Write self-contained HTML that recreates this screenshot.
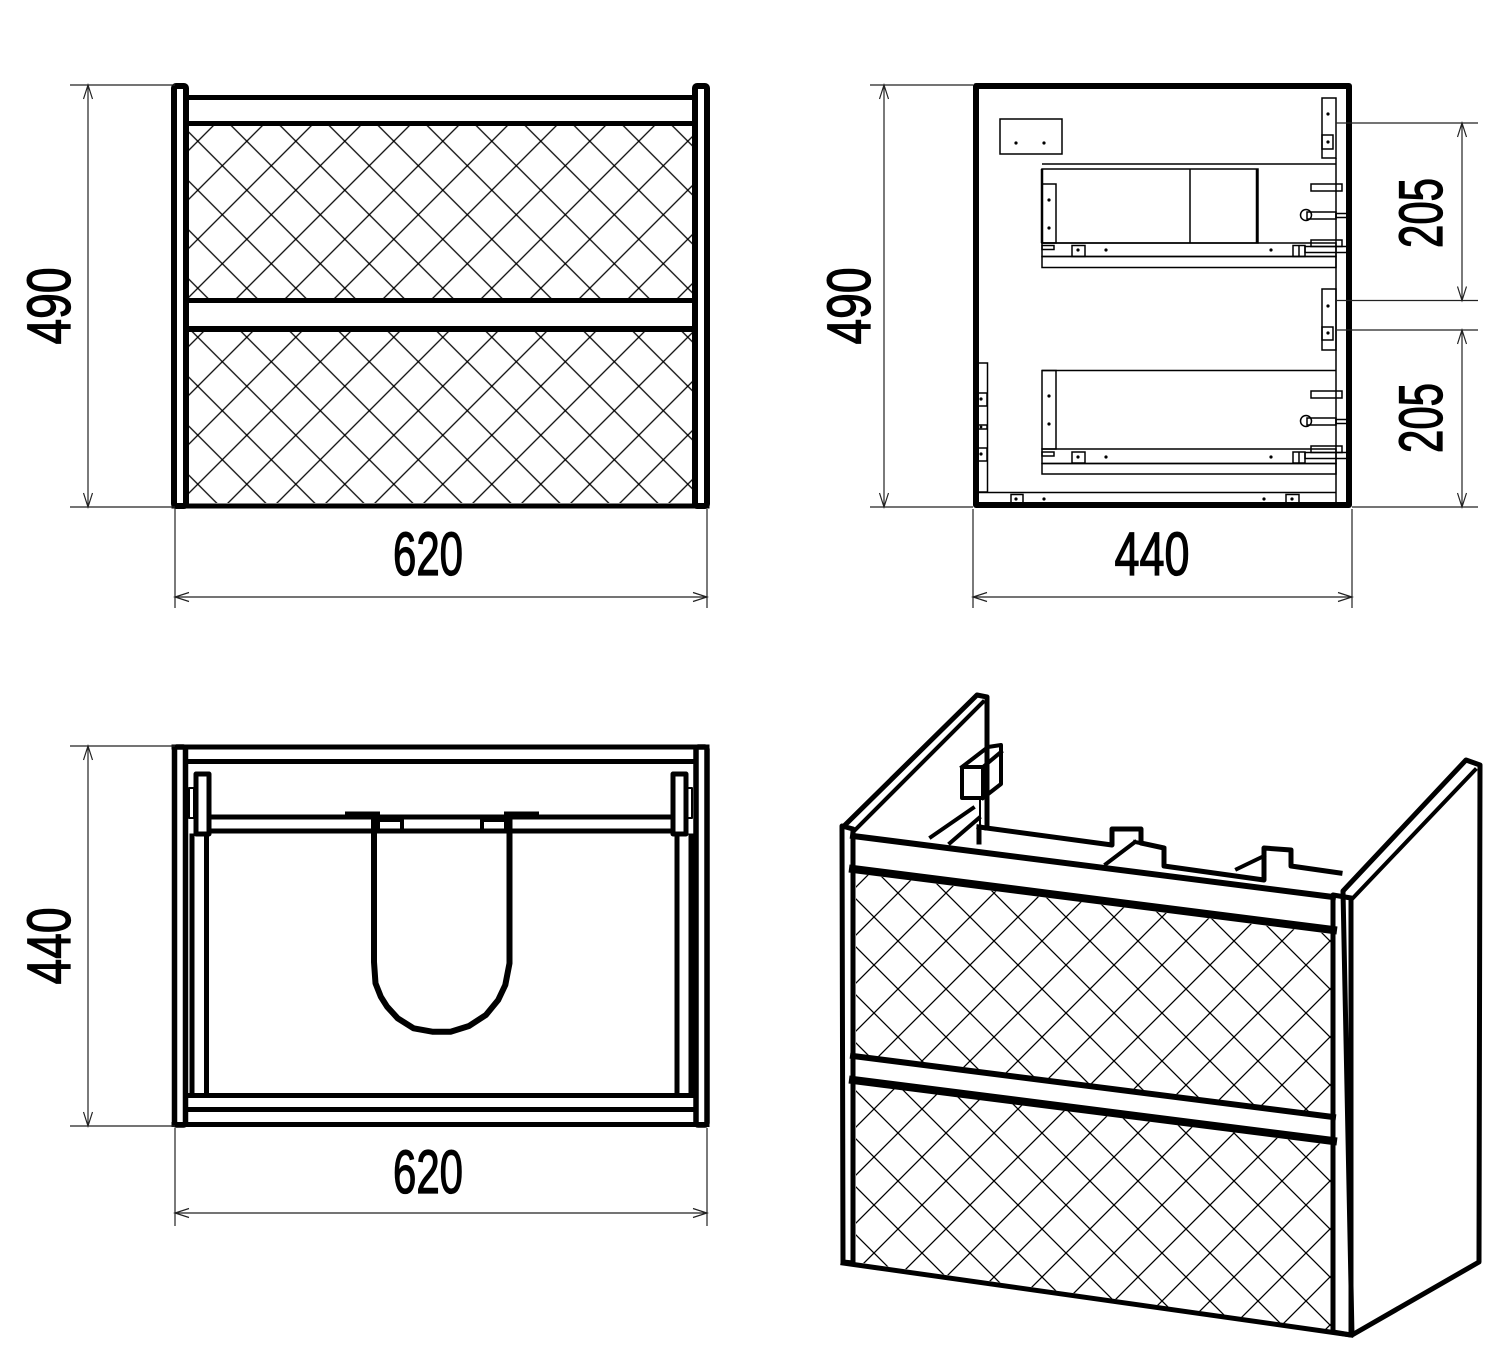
<!DOCTYPE html>
<html><head><meta charset="utf-8"><style>
html,body{margin:0;padding:0;background:#fff;}
svg{display:block;}
.d{stroke:#222;stroke-width:1.2;fill:none;}
.t{font-family:"Liberation Sans",sans-serif;font-weight:normal;font-size:61px;fill:#000;stroke:#000;stroke-width:1.3;}
.k{stroke:#000;fill:none;stroke-linecap:square;stroke-linejoin:round;}
.s{stroke:#000;stroke-width:1.5;fill:none;}
.f{stroke:#000;stroke-width:1.5;fill:#fff;}
.dot{fill:#000;}
</style></head><body>
<svg width="1506" height="1362" viewBox="0 0 1506 1362" xmlns="http://www.w3.org/2000/svg">
<defs>
<pattern id="h" patternUnits="userSpaceOnUse" x="26.3" y="18.7" width="49" height="49">
<path d="M-1 -1 L50 50 M50 -1 L-1 50" stroke="#000" stroke-width="1.3"/>
</pattern>
<pattern id="h2" patternUnits="userSpaceOnUse" x="10" y="5" width="48" height="48">
<path d="M-1 -1 L49 49 M49 -1 L-1 49" stroke="#000" stroke-width="1.3"/>
</pattern>
</defs>

<!-- ============ FRONT VIEW ============ -->
<rect x="189" y="126" width="503" height="172" fill="url(#h)"/>
<rect x="189" y="332" width="503" height="171" fill="url(#h)"/>
<line class="k" x1="189" y1="97.5" x2="692" y2="97.5" stroke-width="5"/>
<line class="k" x1="189" y1="123.5" x2="692" y2="123.5" stroke-width="5"/>
<line class="k" x1="189" y1="300.5" x2="692" y2="300.5" stroke-width="5"/>
<line class="k" x1="189" y1="329" x2="692" y2="329" stroke-width="6"/>
<line class="k" x1="174" y1="506" x2="707" y2="506" stroke-width="5"/>
<rect class="k" x="174" y="86" width="12" height="420" rx="2" stroke-width="6" fill="#fff"/>
<rect class="k" x="695" y="86" width="12" height="420" rx="2" stroke-width="6" fill="#fff"/>

<!-- dims front -->
<line class="d" x1="70" y1="85" x2="175" y2="85"/>
<line class="d" x1="70" y1="507" x2="175" y2="507"/>
<line class="d" x1="88" y1="85" x2="88" y2="507"/>
<path class="d" d="M83.5 99 L88 85 L92.5 99 M83.5 493 L88 507 L92.5 493"/>
<line class="d" x1="175" y1="509" x2="175" y2="608"/>
<line class="d" x1="707" y1="509" x2="707" y2="608"/>
<line class="d" x1="175" y1="597" x2="707" y2="597"/>
<path class="d" d="M189 592.5 L175 597 L189 601.5 M693 592.5 L707 597 L693 601.5"/>
<text class="t" x="428" y="575" text-anchor="middle" textLength="70" lengthAdjust="spacingAndGlyphs">620</text>
<text class="t" transform="translate(70,306) rotate(-90)" x="0" y="0" text-anchor="middle" textLength="77" lengthAdjust="spacingAndGlyphs">490</text>

<!-- ============ SIDE VIEW ============ -->
<rect class="k" x="976" y="86" width="373" height="419" stroke-width="6" fill="#fff"/>
<rect class="s" x="1000" y="119" width="62" height="35"/>
<circle class="dot" cx="1016" cy="143" r="1.6"/><circle class="dot" cx="1044" cy="143" r="1.6"/>
<line class="s" x1="1336" y1="158" x2="1336" y2="505"/>
<rect class="s" x="1322" y="98" width="14" height="60"/>
<rect class="s" x="1322" y="135" width="11" height="14"/>
<circle class="dot" cx="1328" cy="114" r="1.6"/><circle class="dot" cx="1328" cy="142" r="1.6"/>
<rect class="s" x="1322" y="289" width="14" height="61"/>
<rect class="s" x="1322" y="327" width="11" height="13"/>
<circle class="dot" cx="1328" cy="306" r="1.6"/><circle class="dot" cx="1328" cy="333" r="1.6"/>
<!-- upper drawer -->
<line class="s" x1="1042" y1="164" x2="1336" y2="164"/>
<rect class="s" x="1042" y="169" width="216" height="74"/>
<line class="s" x1="1190" y1="169" x2="1190" y2="243"/>
<line class="s" x1="1042" y1="169" x2="1042" y2="243" style="stroke-width:2.5"/>
<line class="s" x1="1257" y1="169" x2="1257" y2="243" style="stroke-width:2.5"/>
<rect class="s" x="1042" y="184" width="14" height="59"/>
<circle class="dot" cx="1049" cy="200" r="1.6"/><circle class="dot" cx="1049" cy="228" r="1.6"/>
<rect class="s" x="1042" y="243" width="294" height="13.5"/>
<rect class="s" x="1042" y="256.5" width="294" height="11"/>
<rect class="s" x="1042" y="245.5" width="12" height="4"/>
<rect class="s" x="1072" y="245.5" width="13" height="11"/>
<circle class="dot" cx="1078" cy="250" r="1.6"/><circle class="dot" cx="1106" cy="250" r="1.6"/><circle class="dot" cx="1271" cy="250" r="1.6"/>
<rect class="s" x="1293" y="245.5" width="12" height="11"/><line class="s" x1="1299" y1="245.5" x2="1299" y2="256.5"/>
<rect class="s" x="1311" y="240" width="31" height="6.5"/>
<rect class="s" x="1305" y="246.5" width="42" height="6"/>
<rect class="s" x="1311" y="184" width="31" height="7"/>
<rect class="s" x="1307" y="212" width="29" height="7"/>
<rect class="s" x="1336" y="213.5" width="11" height="4"/>
<circle class="s" cx="1306" cy="215" r="5.5" fill="#fff"/>
<!-- lower drawer -->
<line class="s" x1="1042" y1="370.5" x2="1336" y2="370.5"/>
<rect class="s" x="1042" y="370.5" width="14" height="78.5"/>
<circle class="dot" cx="1049" cy="396" r="1.6"/><circle class="dot" cx="1049" cy="424" r="1.6"/>
<rect class="s" x="1042" y="449" width="294" height="14.5"/>
<rect class="s" x="1042" y="463.5" width="294" height="10.5"/>
<rect class="s" x="1042" y="452" width="12" height="4"/>
<rect class="s" x="1072" y="452" width="13" height="11"/>
<circle class="dot" cx="1078" cy="457" r="1.6"/><circle class="dot" cx="1106" cy="457" r="1.6"/><circle class="dot" cx="1271" cy="457" r="1.6"/>
<rect class="s" x="1293" y="452" width="12" height="11"/><line class="s" x1="1299" y1="452" x2="1299" y2="463"/>
<rect class="s" x="1311" y="446" width="31" height="6.5"/>
<rect class="s" x="1305" y="452.5" width="42" height="6"/>
<rect class="s" x="1311" y="391" width="31" height="7"/>
<rect class="s" x="1307" y="418" width="29" height="7"/>
<rect class="s" x="1336" y="419.5" width="11" height="4"/>
<circle class="s" cx="1306" cy="421" r="5.5" fill="#fff"/>
<!-- lower left -->
<rect class="s" x="976" y="363" width="11.5" height="129"/>
<rect class="s" x="976" y="393" width="11" height="13"/>
<rect class="s" x="976" y="448" width="11" height="13"/>
<rect class="s" x="976" y="425" width="11" height="4"/>
<circle class="dot" cx="981" cy="399" r="1.6"/><circle class="dot" cx="981" cy="454" r="1.6"/><circle class="dot" cx="981" cy="427" r="1.4"/>
<line class="s" x1="976" y1="492.5" x2="1336" y2="492.5"/>
<rect class="s" x="1011" y="494.5" width="12" height="10"/>
<rect class="s" x="1286" y="494.5" width="13" height="10"/>
<circle class="dot" cx="1016" cy="499" r="1.6"/><circle class="dot" cx="1044" cy="499" r="1.6"/><circle class="dot" cx="1264" cy="499" r="1.6"/><circle class="dot" cx="1292" cy="499" r="1.6"/>

<!-- dims side -->
<line class="d" x1="870" y1="85" x2="973" y2="85"/>
<line class="d" x1="870" y1="507" x2="973" y2="507"/>
<line class="d" x1="884" y1="85" x2="884" y2="507"/>
<path class="d" d="M879.5 99 L884 85 L888.5 99 M879.5 493 L884 507 L888.5 493"/>
<text class="t" transform="translate(870,306) rotate(-90)" x="0" y="0" text-anchor="middle" textLength="77" lengthAdjust="spacingAndGlyphs">490</text>
<line class="d" x1="973" y1="509" x2="973" y2="608"/>
<line class="d" x1="1352" y1="509" x2="1352" y2="608"/>
<line class="d" x1="973" y1="597" x2="1352" y2="597"/>
<path class="d" d="M987 592.5 L973 597 L987 601.5 M1338 592.5 L1352 597 L1338 601.5"/>
<text class="t" x="1152" y="575" text-anchor="middle" textLength="75" lengthAdjust="spacingAndGlyphs">440</text>
<line class="d" x1="1336" y1="123" x2="1478" y2="123"/>
<line class="d" x1="1336" y1="300.5" x2="1478" y2="300.5"/>
<line class="d" x1="1336" y1="330" x2="1478" y2="330"/>
<line class="d" x1="1352" y1="507" x2="1478" y2="507"/>
<line class="d" x1="1462" y1="123" x2="1462" y2="300.5"/>
<line class="d" x1="1462" y1="330" x2="1462" y2="507"/>
<path class="d" d="M1457.5 137 L1462 123 L1466.5 137 M1457.5 286.5 L1462 300.5 L1466.5 286.5 M1457.5 344 L1462 330 L1466.5 344 M1457.5 493 L1462 507 L1466.5 493"/>
<text class="t" transform="translate(1442,213) rotate(-90)" x="0" y="0" text-anchor="middle" textLength="70" lengthAdjust="spacingAndGlyphs">205</text>
<text class="t" transform="translate(1442,418) rotate(-90)" x="0" y="0" text-anchor="middle" textLength="70" lengthAdjust="spacingAndGlyphs">205</text>

<!-- ============ TOP VIEW ============ -->
<line class="k" x1="174" y1="747" x2="707" y2="747" stroke-width="5"/>
<line class="k" x1="188" y1="761.5" x2="692" y2="761.5" stroke-width="5"/>
<line class="k" x1="211" y1="817" x2="672" y2="817" stroke-width="5"/>
<line class="k" x1="211" y1="831" x2="672" y2="831" stroke-width="5"/>
<rect class="k" x="378" y="820" width="24" height="11" stroke-width="4" fill="#fff"/>
<rect class="k" x="482" y="820" width="24" height="11" stroke-width="4" fill="#fff"/>
<line class="k" x1="348" y1="814.5" x2="377" y2="814.5" stroke-width="6"/>
<line class="k" x1="507" y1="814.5" x2="536" y2="814.5" stroke-width="6"/>
<path class="k" stroke-width="6" fill="#fff" d="M374 816 V962 L375.5 983.3 L380.8 996.7 L387.1 1006.7 L397.7 1018.3 L413.6 1028.3 L432.3 1031.7 L450.6 1031.7 L469 1026 L485.9 1015 L498.2 1000 L505.3 985 L509.5 963.3 V816"/>
<line class="k" x1="192" y1="836" x2="192" y2="1094" stroke-width="5"/>
<line class="k" x1="206.5" y1="836" x2="206.5" y2="1094" stroke-width="5"/>
<line class="k" x1="677" y1="836" x2="677" y2="1094" stroke-width="5"/>
<line class="k" x1="691" y1="836" x2="691" y2="1094" stroke-width="5"/>
<rect class="k" x="196" y="774" width="13" height="60" stroke-width="5" fill="#fff"/>
<rect class="k" x="673" y="774" width="13" height="60" stroke-width="5" fill="#fff"/>
<rect class="k" x="189" y="788" width="5" height="30" stroke-width="2" fill="#000"/>
<rect class="k" x="687" y="788" width="5" height="30" stroke-width="2" fill="#000"/>
<line class="k" x1="188" y1="1095.5" x2="692" y2="1095.5" stroke-width="5"/>
<line class="k" x1="188" y1="1109.5" x2="692" y2="1109.5" stroke-width="5"/>
<line class="k" x1="174" y1="1124.5" x2="707" y2="1124.5" stroke-width="5"/>
<rect class="k" x="174.5" y="747" width="11" height="378" rx="2" stroke-width="5.5" fill="#fff"/>
<rect class="k" x="696" y="747" width="11" height="378" rx="2" stroke-width="5.5" fill="#fff"/>

<!-- dims top -->
<line class="d" x1="70" y1="746" x2="175" y2="746"/>
<line class="d" x1="70" y1="1126" x2="175" y2="1126"/>
<line class="d" x1="88" y1="746" x2="88" y2="1126"/>
<path class="d" d="M83.5 760 L88 746 L92.5 760 M83.5 1112 L88 1126 L92.5 1112"/>
<text class="t" transform="translate(70,946) rotate(-90)" x="0" y="0" text-anchor="middle" textLength="77" lengthAdjust="spacingAndGlyphs">440</text>
<line class="d" x1="175" y1="1128" x2="175" y2="1226"/>
<line class="d" x1="707" y1="1128" x2="707" y2="1226"/>
<line class="d" x1="175" y1="1213" x2="707" y2="1213"/>
<path class="d" d="M189 1208.5 L175 1213 L189 1217.5 M693 1208.5 L707 1213 L693 1217.5"/>
<text class="t" x="428" y="1193" text-anchor="middle" textLength="70" lengthAdjust="spacingAndGlyphs">620</text>

<!-- ============ ISOMETRIC ============ -->
<path class="k" stroke-width="5" d="M843 827 L977 695 L987 697 L987 828"/>
<path class="k" stroke-width="4" d="M853 832 L983 702"/>
<path class="k" stroke-width="4" d="M931 837 L973 808 M950 843 L979 818"/>
<path class="k" stroke-width="4" fill="#fff" d="M962 767 L962 798 L983 798 L983 767 Z M962 767 L988 747 L1001 745 L1001 784 L983 798 M983 767 L1001 752"/>
<path class="k" stroke-width="2" d="M980 798 L980 830"/>
<path class="k" stroke-width="5" d="M979 827 L979 842 M979 827 L1112 845 L1112 829 L1141 829 L1141 843 L1164 848 L1164 866 L1264 880 L1264 848 L1291 850 L1291 866 L1340 873"/>
<path class="k" stroke-width="4" d="M1106 864 L1135 842 M1237 869 L1264 856 M1135 842 L1164 848"/>
<path class="k" stroke-width="5" fill="#fff" d="M1343 891 L1466 760 L1480 765 L1479 1262 L1352 1335 Z"/>
<path class="k" stroke-width="4" d="M1352 899 L1475 770"/>
<polygon points="856,873.5 1331,934 1331,1114 856,1053.5" fill="url(#h2)"/>
<polygon points="856,1084 1331,1145 1331,1330 856,1262" fill="url(#h2)"/>
<polygon points="856,843 1331,903 1331,928 856,867" fill="#fff"/>
<polygon points="856,1060 1331,1120 1331,1140 856,1080" fill="#fff"/>
<line class="k" x1="853" y1="836" x2="1333" y2="897" stroke-width="6"/>
<line class="k" x1="853" y1="869" x2="1333" y2="930" stroke-width="8"/>
<line class="k" x1="853" y1="1056" x2="1333" y2="1117" stroke-width="6"/>
<line class="k" x1="853" y1="1080" x2="1333" y2="1141" stroke-width="8"/>
<line class="k" x1="843" y1="1263" x2="1351" y2="1335" stroke-width="5"/>
<polygon class="k" stroke-width="5" fill="#fff" points="842,826 853,829 853,1263 843,1262"/>
<polygon class="k" stroke-width="5" fill="#fff" points="1333,895 1351,898 1351,1335 1333,1332"/>
</svg>
</body></html>
